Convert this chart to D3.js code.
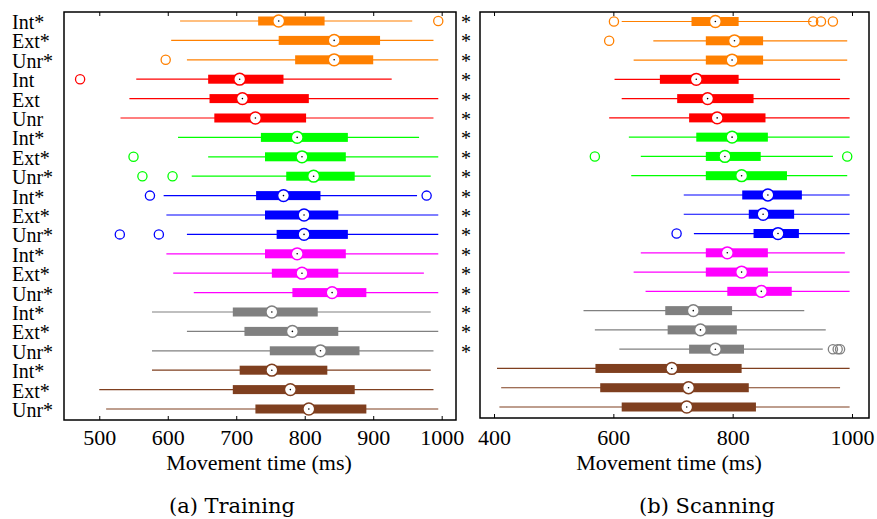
<!DOCTYPE html>
<html>
<head>
<meta charset="utf-8">
<script src="https://cdn.jsdelivr.net/npm/d3@7"></script>
<style>
  html, body { margin: 0; padding: 0; background: #fff; }
  svg { display: block; }
</style>
</head>
<body>
<svg id="chart" width="877" height="519"></svg>
<script>
// ---------------- DATA ----------------
const rowLabels = ["Int*","Ext*","Unr*","Int","Ext","Unr","Int*","Ext*","Unr*","Int*","Ext*","Unr*",
                   "Int*","Ext*","Unr*","Int*","Ext*","Unr*","Int*","Ext*","Unr*"];
const groupColors = ["#FF8000","#FF0000","#00FF00","#0000FF","#FF00FF","#808080","#7F3F1F"];
const significant = [1,1,1,1,1,1,1,1,1,1,1,1,1,1,1,1,1,1,0,0,0];

const trainingTicks = [500,600,700,800,900,1000];
const trainingWhiskerLow  = [618,605,628,554,544,531,615,659,635,594,598,628,598,608,638,577,628,577,577,500,510];
const trainingQ1          = [732,762,786,659,661,668,736,742,773,729,742,759,742,752,782,695,712,749,705,695,728];
const trainingMedian      = [762,843,843,705,709,728,789,796,813,769,799,799,789,796,840,752,782,823,752,779,806];
const trainingQ3          = [829,910,900,769,806,802,863,860,873,823,849,863,860,849,890,819,849,880,833,873,890];
const trainingWhiskerHigh = [957,988,995,927,995,988,967,995,984,964,995,995,995,974,995,984,995,988,984,988,995];
const trainingOutliers    = [[995],[],[597],[472],[],[],[],[550],[563,607],[574,978],[],[530,587],
                             [],[],[],[],[],[],[],[],[]];

const scanningTicks = [400,600,800,1000];
const scanningWhiskerLow  = [614,667,634,602,614,593,626,646,630,718,718,735,646,634,654,550,569,610,405,412,409];
const scanningQ1          = [731,755,755,678,707,727,739,755,755,816,827,835,755,755,791,687,691,727,570,578,614];
const scanningMedian      = [771,803,799,739,758,774,799,787,815,859,851,876,791,815,848,734,746,771,698,726,723];
const scanningQ3          = [810,851,851,810,835,855,859,847,891,916,903,911,859,859,899,799,807,819,815,827,839];
const scanningWhiskerHigh = [932,992,992,980,996,996,996,968,992,996,996,996,988,996,996,920,956,951,996,980,996];
const scanningOutliers    = [[601,935,948,968],[593],[],[],[],[],[],[569,992],[],[],[],[706],
                             [],[],[],[],[],[968,976,980],[],[],[]];

// ---------------- DRAW ----------------
const svg = d3.select("#chart");
const serif = "'Liberation Serif','Times New Roman',serif";

function rowColor(i) { return groupColors[Math.floor(i / 3)]; }

function panel(cfg) {
  const x = d3.scaleLinear().domain(cfg.domain).range([cfg.left, cfg.right]);
  const y = d3.scaleLinear().domain([0, rowLabels.length - 1]).range(cfg.rowRange);
  const g = svg.append("g");
  const idx = d3.range(rowLabels.length);

  // whiskers
  g.selectAll("line.wh").data(idx).join("line")
    .attr("x1", i => x(cfg.wl[i])).attr("x2", i => x(cfg.wh[i]))
    .attr("y1", i => y(i)).attr("y2", i => y(i))
    .attr("stroke", i => rowColor(i)).attr("stroke-width", 1.2);
  // boxes
  g.selectAll("rect.box").data(idx).join("rect")
    .attr("x", i => x(cfg.q1[i])).attr("width", i => x(cfg.q3[i]) - x(cfg.q1[i]))
    .attr("y", i => y(i) - 4.5).attr("height", 9)
    .attr("fill", i => rowColor(i));
  // outliers
  const outs = [];
  idx.forEach(i => cfg.out[i].forEach(v => outs.push({i, v})));
  g.selectAll("circle.out").data(outs).join("circle")
    .attr("cx", d => x(d.v)).attr("cy", d => y(d.i)).attr("r", 4.6)
    .attr("fill", "none").attr("stroke", d => rowColor(d.i)).attr("stroke-width", 1.3);
  // medians
  g.selectAll("circle.med").data(idx).join("circle")
    .attr("cx", i => x(cfg.med[i])).attr("cy", i => y(i)).attr("r", 5.9)
    .attr("fill", "#fff").attr("stroke", i => rowColor(i)).attr("stroke-width", 1.5);
  g.selectAll("circle.dot").data(idx).join("circle")
    .attr("cx", i => x(cfg.med[i])).attr("cy", i => y(i)).attr("r", 0.8)
    .attr("fill", "#000");

  // frame
  g.append("rect").attr("x", cfg.left).attr("y", cfg.top)
    .attr("width", cfg.right - cfg.left).attr("height", cfg.bottom - cfg.top)
    .attr("fill", "none").attr("stroke", "#000").attr("stroke-width", 1.5);

  // bottom axis (labels) and inward ticks
  const axB = d3.axisBottom(x).tickValues(cfg.ticks).tickSize(-4).tickPadding(8).tickFormat(d3.format("d"));
  const gb = g.append("g").attr("transform", `translate(0,${cfg.bottom})`).call(axB);
  gb.select(".domain").remove();
  gb.selectAll(".tick line").attr("stroke", "#000").attr("stroke-width", 1);
  gb.selectAll(".tick text").attr("font-family", serif).attr("font-size", 22).attr("fill", "#000")
    .attr("dy", null).attr("y", 445 - cfg.bottom).attr("dominant-baseline", "auto");
  const axT = d3.axisTop(x).tickValues(cfg.ticks).tickSize(-4).tickFormat("");
  const gt = g.append("g").attr("transform", `translate(0,${cfg.top})`).call(axT);
  gt.select(".domain").remove();
  gt.selectAll(".tick line").attr("stroke", "#000").attr("stroke-width", 1);

  // axis title
  g.append("text").attr("x", cfg.titleX).attr("y", 470).attr("text-anchor", "middle")
    .attr("font-family", serif).attr("font-size", 22).text("Movement time (ms)");
  // caption
  g.append("text").attr("x", cfg.capX).attr("y", 513).attr("text-anchor", "middle")
    .attr("font-family", "'DejaVu Serif',serif").attr("font-size", 21).text(cfg.caption);
  return y;
}

const yL = panel({
  domain: [448.5, 1020.9], left: 64, right: 456, top: 12, bottom: 420, rowRange: [21, 409],
  ticks: trainingTicks, wl: trainingWhiskerLow, q1: trainingQ1, med: trainingMedian,
  q3: trainingQ3, wh: trainingWhiskerHigh, out: trainingOutliers,
  titleX: 259, capX: 232, caption: "(a) Training"
});
panel({
  domain: [376.5, 1028.5], left: 480, right: 869, top: 12, bottom: 418, rowRange: [21.5, 407],
  ticks: scanningTicks, wl: scanningWhiskerLow, q1: scanningQ1, med: scanningMedian,
  q3: scanningQ3, wh: scanningWhiskerHigh, out: scanningOutliers,
  titleX: 669, capX: 707, caption: "(b) Scanning"
});

// row labels
svg.append("g").selectAll("text").data(rowLabels).join("text")
  .attr("x", 12).attr("y", (d, i) => yL(i) + 8)
  .attr("font-family", serif).attr("font-size", 20).attr("fill", "#000").text(d => d);

// significance asterisks
svg.append("g").selectAll("text").data(d3.range(rowLabels.length).filter(i => significant[i])).join("text")
  .attr("x", 461).attr("y", i => yL(i) + 8)
  .attr("font-family", serif).attr("font-size", 20).attr("fill", "#000").text("*");
</script>
</body>
</html>
